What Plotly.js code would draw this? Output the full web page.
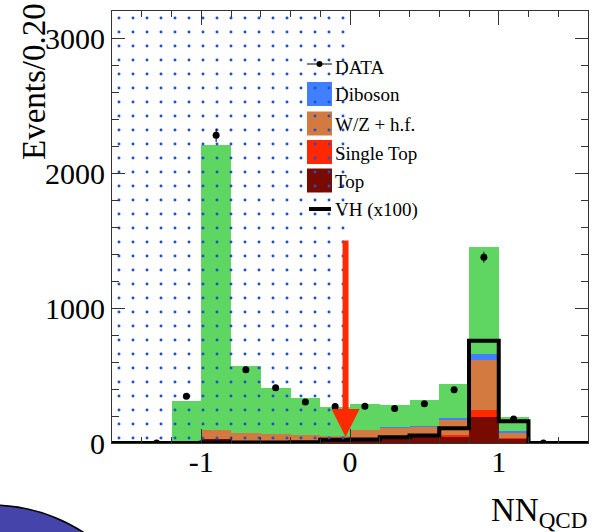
<!DOCTYPE html>
<html><head><meta charset="utf-8">
<script src="https://cdn.plot.ly/plotly-3.0.1.min.js"></script>
<style>html,body{margin:0;padding:0;background:#fff}#chart{width:599px;height:532px}</style>
</head><body><div id="chart"></div>
<script>
// ---- data ----
const binCenters = [-1.5,-1.3,-1.1,-0.9,-0.7,-0.5,-0.3,-0.1,0.1,0.3,0.5,0.7,0.9,1.1,1.3,1.5];
const binWidth = 0.2;
const topQuark  = [0,0,0,30,8,8,8,12,20,35,42,43,191,31,0,0];
const singleTop = [0,0,0,2,2,2,2,2,2,3,4,13,55,7,0,0];
const wzHF      = [0,0,0,63,62,55,50,36,73,70,71,114,371,35,0,0];
const diboson   = [0,0,0,1,1,1,1,2,3,7,10,14,45,15,0,0];
const otherBkg  = [0,0,308,2109,494,338,275,216,188,168,188,253,793,103,0,0];
const vhX100    = [0,0,0,4,4,4,5,24,26,42,56,110,758,161,0,0];
const dataX   = [-1.3,-1.1,-0.9,-0.7,-0.5,-0.3,-0.1,0.1,0.3,0.5,0.7,0.9,1.1,1.3];
const dataY   = [0,347,2279,543,410,303,271,273,256,291,395,1376,178,0];
const dataErr = [0,19,50,23,20,17,16,17,16,17,20,40,13,0];
const cutValue = -0.03;
const arrowTop = 1500, arrowTip = 45;
const xTickVals = [-1,0,1], xTickText = ['-1','0','1'];
const yTickVals = [0,1000,2000,3000], yTickText = ['0','1000','2000','3000'];
const xRange = [-1.6,1.6], yRange = [0,3200];
const legendNames = ['DATA','Diboson','W/Z + h.f.','Single Top','Top','VH (x100)'];

// ---- styling ----
const FONT = 'Liberation Serif, Times New Roman, serif';
const C = {green:'#60d662', orange:'#d27a40', blue:'#4080ff', red:'#ff2800', dark:'#780a00', arrow:'#ff2a00', dots:'#1f50c8', frame:'#333'};
const W = 599, H = 532, M = {l:112, r:11, t:11, b:89};
const pw = W - M.l - M.r, ph = H - M.t - M.b;
const PX = p => (p - M.l) / pw;
const PY = p => (H - M.b - p) / ph;

const edges = binCenters.map(c => c - binWidth/2).concat([binCenters[binCenters.length-1] + binWidth/2]);
const vhStep = vhX100.concat([vhX100[vhX100.length-1]]);

function barTrace(name, y, color) {
  return {type:'bar', name, x:binCenters, y, width:binWidth, marker:{color, line:{width:0}}, showlegend:false, hoverinfo:'skip'};
}
const traces = [
  barTrace('Top', topQuark, C.dark),
  barTrace('Single Top', singleTop, C.red),
  barTrace('W/Z + h.f.', wzHF, C.orange),
  barTrace('Diboson', diboson, C.blue),
  barTrace('Other', otherBkg, C.green),
  {type:'scatter', mode:'lines', name:'VH (x100)', x:edges, y:vhStep, line:{shape:'hv', color:'#000', width:4}, showlegend:false},
  {type:'scatter', mode:'none', x:[xRange[0], cutValue, cutValue, xRange[0]], y:[yRange[0], yRange[0], yRange[1], yRange[1]],
   fill:'toself', fillcolor:'rgba(0,0,0,0)',
   fillpattern:{shape:'.', size:14, solidity:0.035, fgcolor:C.dots, bgcolor:'rgba(0,0,0,0)', fillmode:'replace'},
   showlegend:false, hoverinfo:'skip'},
  {type:'scatter', mode:'markers', name:'DATA', x:dataX, y:dataY,
   marker:{color:'#000', size:7}, error_y:{type:'data', array:dataErr, visible:true, width:0, thickness:1, color:'#000'}, showlegend:false}
];

// ---- custom legend (ROOT style) ----
const shapes = [];
const annotations = [];
const lgX0 = 307, lgX1 = 332, rowY = [64, 94, 123.5, 152, 180.5, 209];
const boxColors = [null, C.blue, C.orange, C.red, C.dark, null];
legendNames.forEach((nm, i) => {
  const cy = rowY[i];
  if (boxColors[i]) {
    shapes.push({type:'rect', xref:'paper', yref:'paper', layer:'below', x0:PX(lgX0), x1:PX(lgX1), y0:PY(cy+12), y1:PY(cy-12), fillcolor:boxColors[i], line:{width:0}});
  }
  annotations.push({xref:'paper', yref:'paper', x:PX(333), y:PY(cy + (i===0?4:1)), xanchor:'left', yanchor:'middle', showarrow:false,
    text:nm, font:{family:FONT, size:19, color:'#000'}});
});
// DATA symbol
shapes.push({type:'line', xref:'paper', yref:'paper', layer:'below', x0:PX(lgX0), x1:PX(lgX1), y0:PY(rowY[0]), y1:PY(rowY[0]), line:{color:'#000', width:1}});
shapes.push({type:'circle', xref:'paper', yref:'paper', layer:'below', x0:PX(316.5), x1:PX(322.5), y0:PY(rowY[0]+3), y1:PY(rowY[0]-3), fillcolor:'#000', line:{width:0}});
// VH symbol
shapes.push({type:'line', xref:'paper', yref:'paper', layer:'below', x0:PX(309), x1:PX(331), y0:PY(rowY[5]), y1:PY(rowY[5]), line:{color:'#000', width:4}});

// cut arrow
shapes.push({type:'line', xref:'x', yref:'y', layer:'above', x0:cutValue, x1:cutValue, y0:arrowTop, y1:arrowTip+150, line:{color:C.arrow, width:6}});
shapes.push({type:'path', xref:'x', yref:'y', layer:'above', xsizemode:'pixel', ysizemode:'pixel', xanchor:cutValue, yanchor:arrowTip,
  path:'M-14,28 L14,28 L0,0 Z', fillcolor:C.arrow, line:{width:0}});

// decorative slide blob, bottom-left
shapes.push({type:'circle', xref:'paper', yref:'paper', layer:'above', x0:PX(-179), x1:PX(161), y0:PY(845), y1:PY(505), fillcolor:'#4444aa', line:{color:'#000', width:1.5}});

// axis titles (ROOT style, right/top aligned)
annotations.push({xref:'paper', yref:'paper', x:PX(34), y:PY(82), xanchor:'center', yanchor:'middle', textangle:-90, showarrow:false,
  text:'Events/0.20', font:{family:FONT, size:33, color:'#000'}});
annotations.push({xref:'paper', yref:'paper', x:PX(589), y:PY(512), xanchor:'right', yanchor:'middle', showarrow:false,
  text:'NN<sub>QCD</sub>', font:{family:FONT, size:33, color:'#000'}});

const axisCommon = {showgrid:false, zeroline:false, showline:true, linecolor:C.frame, linewidth:1, mirror:'ticks',
  ticks:'inside', tickcolor:C.frame, tickwidth:1, tickfont:{family:FONT, size:30, color:'#000'}, fixedrange:true, tickmode:'array'};

const layout = {
  width:W, height:H, margin:M, paper_bgcolor:'#fff', plot_bgcolor:'rgba(0,0,0,0)',
  barmode:'stack', bargap:0, showlegend:false,
  xaxis:Object.assign({}, axisCommon, {range:xRange, tickvals:xTickVals, ticktext:xTickText, ticklen:14, ticklabelstandoff:-8,
    minor:{dtick:0.2, tick0:0, ticks:'inside', ticklen:6, tickcolor:C.frame, tickwidth:1, showgrid:false}}),
  yaxis:Object.assign({}, axisCommon, {range:yRange, tickvals:yTickVals, ticktext:yTickText, ticklen:13,
    minor:{dtick:200, tick0:0, ticks:'inside', ticklen:7, tickcolor:C.frame, tickwidth:1, showgrid:false}}),
  shapes, annotations
};
Plotly.newPlot('chart', traces, layout, {staticPlot:true, displayModeBar:false});
</script>
</body></html>
